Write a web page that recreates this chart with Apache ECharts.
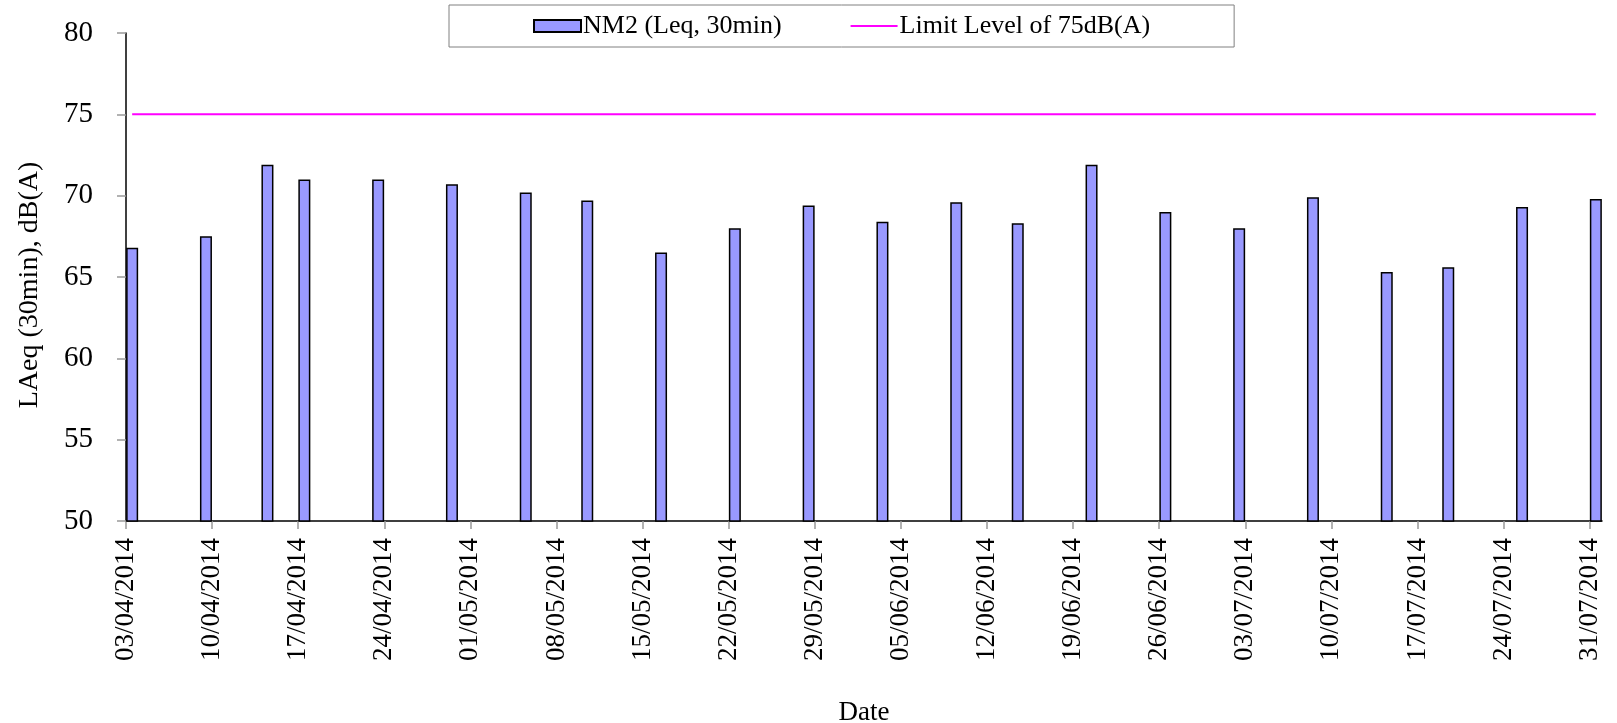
<!DOCTYPE html>
<html>
<head>
<meta charset="utf-8">
<script src="https://cdn.jsdelivr.net/npm/echarts@6/dist/echarts.min.js"></script>
<style>
html,body{margin:0;padding:0;background:#fff;}
#chart{width:1617px;height:723px;}
</style>
</head>
<body>
<div id="chart"></div>
<script>
// Measurement dates (dd/mm/yyyy)
const measureDates = ['03/04/2014','09/04/2014','14/04/2014','17/04/2014','23/04/2014','29/04/2014',
  '05/05/2014','10/05/2014','16/05/2014','22/05/2014','28/05/2014','03/06/2014','09/06/2014',
  '14/06/2014','20/06/2014','26/06/2014','02/07/2014','08/07/2014','14/07/2014','19/07/2014',
  '25/07/2014','31/07/2014'];
// NM2 (Leq, 30min) values, dB(A)
const nm2Values = [66.8, 67.5, 71.9, 71.0, 71.0, 70.7, 70.2, 69.7, 66.5, 68.0, 69.4, 68.4,
  69.6, 68.3, 71.9, 69.0, 68.0, 69.9, 65.3, 65.6, 69.3, 69.8];
// Limit level
const limitLevel = 75;
// X tick labels
const tickLabels = ['03/04/2014','10/04/2014','17/04/2014','24/04/2014','01/05/2014','08/05/2014',
  '15/05/2014','22/05/2014','29/05/2014','05/06/2014','12/06/2014','19/06/2014','26/06/2014',
  '03/07/2014','10/07/2014','17/07/2014','24/07/2014','31/07/2014'];
const axisEndDate = '01/08/2014';

const DAY = 86400000;
function toUTC(s){ const p = s.split('/'); return Date.UTC(+p[2], +p[1]-1, +p[0]); }
const t0 = toUTC(tickLabels[0]);
function dayIndex(s){ return Math.round((toUTC(s) - t0) / DAY); }
function pad(n){ return (n < 10 ? '0' : '') + n; }
function fmt(v){ const d = new Date(t0 + Math.round(v) * DAY); return pad(d.getUTCDate()) + '/' + pad(d.getUTCMonth()+1) + '/' + d.getUTCFullYear(); }

const tickValues = tickLabels.map(dayIndex);
// each date occupies one day slot; mark at slot centre
const barData = measureDates.map((d, i) => [dayIndex(d) + 0.5, nm2Values[i]]);
const limitData = measureDates.map(d => [dayIndex(d) + 0.5, limitLevel]);

const FONT = 'Liberation Serif';
const chart = echarts.init(document.getElementById('chart'));
chart.setOption({
  animation: false,
  backgroundColor: '#fff',
  textStyle: { fontFamily: FONT, color: '#000' },
  grid: { left: 126, right: 15, top: 33, bottom: 202, containLabel: false, outerBoundsMode: 'none' },
  legend: {
    left: 449, top: 5,
    padding: [8, 84, 8, 84],
    itemGap: 68,
    itemWidth: 47, itemHeight: 12,
    borderColor: '#808080', borderWidth: 1,
    textStyle: { fontFamily: FONT, fontSize: 26, color: '#000', padding: [0, 0, 0, -3] },
    data: [
      { name: 'NM2 (Leq, 30min)', icon: 'rect' },
      { name: 'Limit Level of 75dB(A)', itemStyle: { opacity: 0 }, lineStyle: { color: '#FF00FF', width: 2, opacity: 1 } }
    ]
  },
  xAxis: {
    type: 'value',
    min: 0, max: dayIndex(axisEndDate),
    name: 'Date', nameLocation: 'middle', nameGap: 178,
    nameTextStyle: { fontFamily: FONT, fontSize: 27, color: '#000' },
    splitLine: { show: false },
    axisLine: { show: true, lineStyle: { color: '#000', width: 1.5 } },
    axisTick: { show: true, inside: false, length: 8, customValues: tickValues, lineStyle: { color: '#999', width: 1.5 } },
    axisLabel: { customValues: tickValues, rotate: 90, margin: 17, fontSize: 27, color: '#000', fontFamily: FONT,
      padding: [12, 0, 0, 0], formatter: v => fmt(v) }
  },
  yAxis: {
    type: 'value', min: 50, max: 80, interval: 5,
    name: 'LAeq (30min), dB(A)', nameLocation: 'middle', nameGap: 82,
    nameTextStyle: { fontFamily: FONT, fontSize: 28, color: '#000', padding: [0, 16, 0, 0] },
    splitLine: { show: false },
    axisLine: { show: true, lineStyle: { color: '#000', width: 1.5 } },
    axisTick: { show: true, inside: false, length: 9, lineStyle: { color: '#999', width: 1.5 } },
    axisLabel: { margin: 33, fontSize: 29, color: '#000', fontFamily: FONT }
  },
  series: [
    {
      name: 'NM2 (Leq, 30min)', type: 'bar', data: barData, barWidth: 12,
      itemStyle: { color: '#9999FF', borderColor: '#000', borderWidth: 1.5 }
    },
    {
      name: 'Limit Level of 75dB(A)', type: 'line', data: limitData, symbol: 'none',
      lineStyle: { color: '#FF00FF', width: 2 }, itemStyle: { color: '#FF00FF' }
    }
  ]
});
</script>
</body>
</html>
